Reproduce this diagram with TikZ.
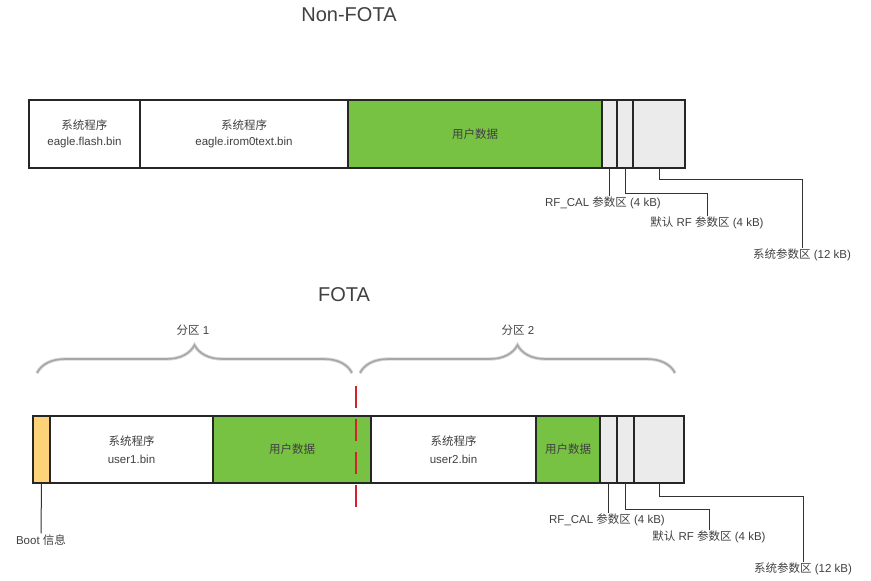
\documentclass[tikz,border=0pt]{standalone}
\usepackage{fontspec}
\setmainfont{Liberation Sans}
\newfontfamily\cjk{Noto Sans CJK SC}
\usetikzlibrary{positioning, decorations.pathreplacing}
\definecolor{userGreen}{RGB}{119,193,67}
\definecolor{paramGray}{RGB}{235,235,235}
\definecolor{bootYellow}{RGB}{253,211,122}
\definecolor{textGray}{RGB}{64,64,64}
\definecolor{cutRed}{RGB}{210,35,45}
\tikzset{
    seg/.style={draw=black!85, line width=1.1pt, rectangle, minimum height=68pt, inner sep=0pt, outer sep=0pt, align=center, font=\fontsize{11.5}{16}\selectfont, text=textGray},
    sysseg/.style={seg, fill=white},
    userseg/.style={seg, fill=userGreen},
    parseg/.style={seg, fill=paramGray},
    bootseg/.style={seg, fill=bootYellow},
    leader/.style={draw=black!80, line width=1pt},
    note/.style={font=\fontsize{11.5}{13}\selectfont, text=textGray, inner sep=1pt},
    title/.style={font=\fontsize{20}{24}\selectfont, text=textGray},
    bracepart/.style={decorate, decoration={brace, amplitude=28pt}},
    cut/.style={draw=cutRed, line width=2.6pt, dash pattern=on 22pt off 11pt}
}

\begin{document}
\begin{tikzpicture}[x=1pt, y=-1pt]
\useasboundingbox (0,0) rectangle (871,581);
% Non-FOTA
\node[title] (nonfota) at (349,15) {Non-FOTA};
\node[sysseg, minimum width=111pt, anchor=north west] (flash) at (29,100) {{\cjk 系统程序}\\eagle.flash.bin};
\node[sysseg, minimum width=208pt, right=0pt of flash] (irom) {{\cjk 系统程序}\\eagle.irom0text.bin};
\node[userseg, minimum width=254pt, right=0pt of irom] (data1) {{\cjk 用户数据}};
\node[parseg, minimum width=15pt, right=0pt of data1] (cal1) {};
\node[parseg, minimum width=16pt, right=0pt of cal1] (rf1) {};
\node[parseg, minimum width=52pt, right=0pt of rf1] (sp1) {};
\node[note] (calL1) at (603,203) {RF\_CAL {\cjk 参数区} (4 kB)};
\node[note] (rfL1) at (707,223) {{\cjk 默认} RF {\cjk 参数区} (4 kB)};
\node[note] (spL1) at (802,255) {{\cjk 系统参数区} (12 kB)};
\draw[leader] (cal1.south) -- (cal1.south |- calL1.north);
\draw[leader] (rf1.south) -- ++(0,25) -| (rfL1.north);
\draw[leader] (sp1.south) -- ++(0,11) -| (spL1.north);
% FOTA
\node[title] (fota) at (344,295) {FOTA};
\node[bootseg, minimum width=17pt, minimum height=67pt, anchor=north west] (boot) at (33,416) {};
\node[sysseg, minimum width=163pt, minimum height=67pt, right=0pt of boot, font=\fontsize{11.5}{18}\selectfont] (user1) {{\cjk 系统程序}\\user1.bin};
\node[userseg, minimum width=158pt, minimum height=67pt, right=0pt of user1] (data2) {{\cjk 用户数据}};
\node[sysseg, minimum width=165pt, minimum height=67pt, right=0pt of data2, font=\fontsize{11.5}{18}\selectfont] (user2) {{\cjk 系统程序}\\user2.bin};
\node[userseg, minimum width=64pt, minimum height=67pt, right=0pt of user2] (data3) {{\cjk 用户数据}};
\node[parseg, minimum width=17pt, minimum height=67pt, right=0pt of data3] (cal2) {};
\node[parseg, minimum width=17pt, minimum height=67pt, right=0pt of cal2] (rf2) {};
\node[parseg, minimum width=50pt, minimum height=67pt, right=0pt of rf2] (sp2) {};
\node[note] (bootL) at (41,540) {Boot {\cjk 信息}};
\node[note] (calL2) at (607,520) {RF\_CAL {\cjk 参数区} (4 kB)};
\node[note] (rfL2) at (709,537) {{\cjk 默认} RF {\cjk 参数区} (4 kB)};
\node[note] (spL2) at (803,569) {{\cjk 系统参数区} (12 kB)};
\draw[leader] (boot.south) -- (bootL.north);
\draw[leader] (cal2.south) -- (cal2.south |- calL2.north);
\draw[leader] (rf2.south) -- ++(0,26) -| (rfL2.north);
\draw[leader] (sp2.south) -- ++(0,13) -| (spL2.north);
% partitions
\coordinate (p1L) at (37,373);
\coordinate (p1R) at (352,373);
\coordinate (p2L) at (360,373);
\coordinate (p2R) at (675,373);
\foreach \a/\b in {p1L/p1R, p2L/p2R} {
    \draw[bracepart, draw=gray!30, line width=3.4pt, yshift=-1.3pt] (\a) -- (\b);
    \draw[bracepart, draw=gray!70, line width=1.6pt] (\a) -- (\b);
}
\node[note] (part1) at (193,330) {{\cjk 分区} 1};
\node[note] (part2) at (518,330) {{\cjk 分区} 2};
\coordinate (cutTop) at (356,386);
\coordinate (cutBot) at (356,508);
\draw[cut] (cutTop) -- (cutBot);
\end{tikzpicture}
\end{document}
